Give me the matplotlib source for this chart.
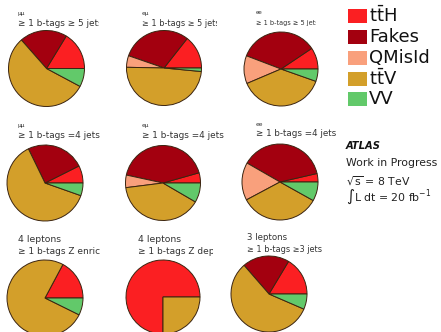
import matplotlib
matplotlib.use("Agg")
import matplotlib.pyplot as plt
from matplotlib.transforms import Bbox, TransformedBbox
from matplotlib.patches import Rectangle

plt.rcParams["font.family"] = ["DejaVu Sans"]
plt.rcParams["mathtext.fontset"] = "dejavusans"

W, H = 441, 332

# processes (stacked counter-clockwise from 3 o'clock)
processes = [r"t$\mathrm{\bar{t}}$H", "Fakes", "QMisId", r"t$\mathrm{\bar{t}}$V", "VV"]
colors = ["#fb1f22", "#a3000f", "#f9a07c", "#d39f2a", "#62c96a"]

# nine signal regions
channels = ["μμ", "eμ", "ee", "μμ", "eμ", "ee", "4 leptons", "4 leptons", "3 leptons"]
selections = ["≥ 1 b-tags ≥ 5 jets", "≥ 1 b-tags ≥ 5 jets", "≥ 1 b-tags ≥ 5 jets",
              "≥ 1 b-tags =4 jets", "≥ 1 b-tags =4 jets", "≥ 1 b-tags =4 jets",
              "≥ 1 b-tags Z enriched", "≥ 1 b-tags Z depleted", "≥ 1 b-tags ≥3 jets"]

# fractions per region
frac_ttH = [0.163, 0.144, 0.094, 0.074, 0.044, 0.036, 0.172, 0.750, 0.164]
frac_fakes = [0.202, 0.303, 0.348, 0.248, 0.422, 0.381, 0.000, 0.000, 0.200]
frac_qmisid = [0.000, 0.050, 0.122, 0.000, 0.054, 0.161, 0.000, 0.000, 0.000]
frac_ttV = [0.557, 0.488, 0.382, 0.624, 0.396, 0.341, 0.755, 0.250, 0.571]
frac_VV = [0.078, 0.015, 0.054, 0.054, 0.084, 0.081, 0.073, 0.000, 0.065]

# layout in pixels from the top-left corner
centers = [(46.5, 68.5), (164, 68), (281, 69),
           (45, 183), (163, 183), (280, 182),
           (45, 298), (163, 297), (269, 294)]
radii = [38, 37.5, 37, 38, 37.5, 38, 38, 37, 38]
label_pos = [(18, 14, 24), (142, 14, 24), (256, 12, 23),
             (18, 125, 136), (142, 125, 136), (256, 125, 134),
             (18, 240, 252), (138, 240, 252), (247, 237, 249)]
top_size = [4.2, 4.2, 4.0, 4.2, 4.2, 4.2, 6.7, 6.7, 6.2]
sel_size = [6.4, 5.9, 4.7, 6.4, 6.4, 6.3, 6.5, 6.5, 5.9]
clip_right = [99, 217, 316, 110, 230, 345, 101, 213, 340]

fig = plt.figure(figsize=(W / 100, H / 100), dpi=100)
ax = fig.add_axes([0, 0, 1, 1])


def Y(py):
    return H - py


for i in range(9):
    vals = [frac_ttH[i], frac_fakes[i], frac_qmisid[i], frac_ttV[i], frac_VV[i]]
    keep = [k for k, v in enumerate(vals) if v > 0]
    cx, cy = centers[i]
    ax.pie([vals[k] for k in keep], colors=[colors[k] for k in keep],
           startangle=0, counterclock=True, center=(cx, Y(cy)), radius=radii[i],
           frame=True, normalize=True,
           wedgeprops=dict(edgecolor="#3b2410", linewidth=0.7))
    lx, ly1, ly2 = label_pos[i]
    clip = TransformedBbox(Bbox([[0, 0], [clip_right[i], H]]), ax.transData)
    t1 = ax.text(lx, Y(ly1), channels[i], fontsize=top_size[i],
                 color="#333333", va="center", ha="left", clip_on=True)
    t2 = ax.text(lx, Y(ly2), selections[i], fontsize=sel_size[i],
                 color="#333333", va="center", ha="left", clip_on=True)
    t1.set_clip_box(clip)
    t2.set_clip_box(clip)

# legend
leg_y = [16, 36.5, 58, 78.5, 99]
for k, name in enumerate(processes):
    yc = leg_y[k]
    ax.add_patch(Rectangle((348, Y(yc) - 7), 19, 14, facecolor=colors[k],
                           edgecolor="none"))
    ax.text(369, Y(yc), name, fontsize=13, color="#111111", va="center", ha="left")

# experiment label
ax.text(346, Y(146), "ATLAS", fontsize=7.2, fontweight="bold", fontstyle="italic",
        color="#111111", va="center", ha="left")
ax.text(346, Y(163), "Work in Progress", fontsize=7.8, color="#222222",
        va="center", ha="left")
ax.text(346, Y(181), r"$\sqrt{\mathrm{s}}$ = 8 TeV", fontsize=7.8, color="#222222",
        va="center", ha="left")
ax.text(346, Y(197), r"$\int$L dt = 20 fb$^{\mathrm{-1}}$", fontsize=7.8,
        color="#222222", va="center", ha="left")

ax.set_xlim(0, W)
ax.set_ylim(0, H)
ax.set_aspect("auto")
ax.axis("off")

fig.savefig("out.png", dpi=100, facecolor="white")
